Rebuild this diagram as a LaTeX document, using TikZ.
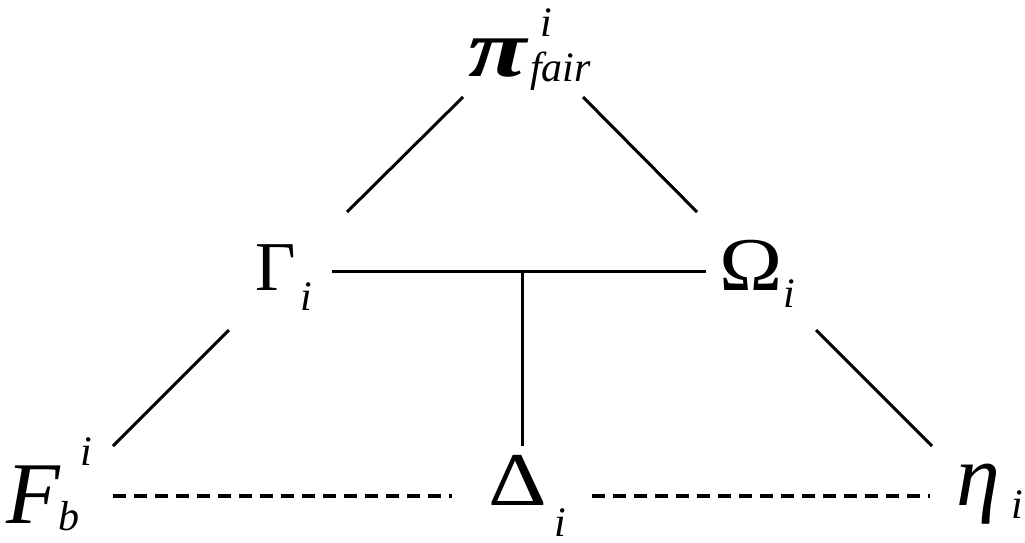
\documentclass[tikz,border=0pt]{standalone}
\usepackage{fontspec}
\setmainfont{Liberation Serif}[
  UprightFont={Liberation Serif},
  ItalicFont={Liberation Serif Italic},
  BoldFont={Liberation Serif Bold},
  BoldItalicFont={Liberation Serif Bold Italic}]
\newcommand\mainsz[1]{\fontsize{#1}{#1}\selectfont}
\newcommand\subsz{\fontsize{42}{42}\selectfont}
\newcommand\scr[3]{\rlap{\kern#1pt\raisebox{#2pt}{\subsz\itshape #3}}}
\begin{document}
\begin{tikzpicture}[x=1pt,y=-1pt,
  lbl/.style={inner sep=0pt,anchor=base west},
  link/.style={line width=3pt,line cap=butt},
  dlink/.style={line width=3.6pt,dash pattern=on 13pt off 8pt}]
\useasboundingbox (0,0) rectangle (1025,543);
% labels
\node[lbl] (pi) at (468,77) {\scr{72}{40}{i}\scr{62}{-5}{fair}\scalebox{1.3}[1]{\mainsz{82}\bfseries\itshape π}};
\node[lbl] (G) at (255,290) {\scr{45}{-20}{i}\mainsz{70}Γ};
\node[lbl] (O) at (719,290) {\scr{64}{-17}{i}\scalebox{1.12}[1]{\mainsz{76}Ω}};
\node[lbl] (F) at (6,523) {\scr{74}{58}{i}\scr{52}{-7}{b}\mainsz{88}\itshape F};
\node[lbl] (D) at (488,505) {\scr{66}{-31}{i}\scalebox{1.2}[1]{\mainsz{76}Δ}};
\node[lbl] (E) at (956,505) {\scr{55}{-13}{i}\mainsz{88}\itshape η};
% connector end points
\coordinate (piG) at (463,97);  \coordinate (Gpi) at (347,212);
\coordinate (piO) at (583,97);  \coordinate (Opi) at (697,212);
\coordinate (GO)  at (332,271); \coordinate (OG)  at (706,271);
\coordinate (T)   at (522,271); \coordinate (DT)  at (522,446);
\coordinate (GF)  at (229,330); \coordinate (FG)  at (113,446);
\coordinate (OE)  at (816,330); \coordinate (EO)  at (932,446);
\coordinate (FD)  at (113,496); \coordinate (DF)  at (452,496);
\coordinate (DE)  at (592,496); \coordinate (ED)  at (930,496);
% connectors
\draw[link] (piG) -- (Gpi);
\draw[link] (piO) -- (Opi);
\draw[link] (GO) -- (OG);
\draw[link] (T) -- (DT);
\draw[link] (GF) -- (FG);
\draw[link] (OE) -- (EO);
\draw[dlink] (FD) -- (DF);
\draw[dlink] (DE) -- (ED);
\end{tikzpicture}
\end{document}
